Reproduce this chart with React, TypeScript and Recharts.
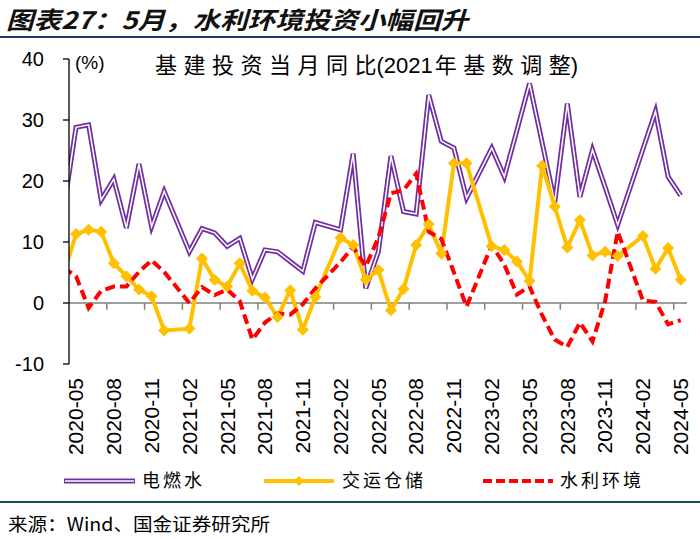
import React from "react";
import { LineChart, Line, XAxis, YAxis, ReferenceLine } from "recharts";

// 2020-04 is only there so the first segment runs in from the left edge
const months = [
  "2020-04", "2020-05", "2020-06", "2020-07", "2020-08", "2020-09", "2020-10", "2020-11", "2020-12",
  "2021-01", "2021-02", "2021-03", "2021-04", "2021-05", "2021-06", "2021-07", "2021-08", "2021-09", "2021-10", "2021-11", "2021-12",
  "2022-01", "2022-02", "2022-03", "2022-04", "2022-05", "2022-06", "2022-07", "2022-08", "2022-09", "2022-10", "2022-11", "2022-12",
  "2023-01", "2023-02", "2023-03", "2023-04", "2023-05", "2023-06", "2023-07", "2023-08", "2023-09", "2023-10", "2023-11", "2023-12",
  "2024-01", "2024-02", "2024-03", "2024-04", "2024-05",
];

const tickLabels = [
  "2020-05", "2020-08", "2020-11", "2021-02", "2021-05", "2021-08", "2021-11", "2022-02", "2022-05",
  "2022-08", "2022-11", "2023-02", "2023-05", "2023-08", "2023-11", "2024-02", "2024-05",
];

// 电燃水
const power = [
  15.0, 28.8, 29.2, 16.9, 20.3, 12.3, 22.8, 12.5, 18.3,
  null, 8.4, 12.2, 11.5, 9.3, 10.6, 3.9, 8.7, 8.4, 6.8, 5.2, 13.2,
  null, 12.0, 24.5, 2.4, 8.4, 24.1, 15.0, 14.6, 34.1, 26.5, 25.4, 17.2,
  null, 25.4, 20.7, 28.3, 36.0, 26.3, 16.5, 32.7, 17.4, 25.1, 19.0, 12.8,
  null, 25.2, 31.4, 20.7, 17.6,
];

// 交运仓储
const transport = [
  4.5, 11.3, 12.0, 11.7, 6.5, 4.4, 2.2, 1.1, -4.5,
  null, -4.2, 7.3, 3.8, 2.7, 6.5, 2.0, 0.9, -2.3, 2.1, -4.4, 1.0,
  null, 10.7, 9.5, 3.8, 5.4, -1.2, 2.3, 9.5, 12.9, 8.1, 22.9, 22.9,
  null, 9.3, 8.7, 6.8, 3.6, 22.5, 15.8, 9.1, 13.6, 7.8, 8.4, 7.7,
  null, 11.0, 5.6, 9.0, 3.8,
];

// 水利环境
const water = [
  5.8, 4.4, -0.8, 2.0, 2.7, 2.7, 5.1, 7.0, 5.1,
  null, 0.0, 2.6, 1.3, 2.2, 0.3, -6.0, -3.2, -1.7, -1.9, -0.2, 2.4,
  null, 6.7, 9.2, 6.0, 10.7, 18.0, 18.5, 21.2, 11.7, 10.5, 5.0, -0.6,
  null, 9.5, 6.3, 1.4, 2.7, -2.0, -6.0, -7.2, -3.2, -6.3, 0.3, 11.7,
  null, 0.4, 0.2, -3.5, -2.8,
];

const yTicks = [-10, 0, 10, 20, 30, 40];

const data = months.map((m, k) => ({
  pos: k - 1,
  month: m,
  power: power[k],
  transport: transport[k],
  water: water[k],
}));

const tickPos = tickLabels.map((t) => months.indexOf(t) - 1);
// excel puts the small tick marks a bit left of each label
const markShift = 0.556;
const zeroMarks = tickPos.filter((p) => p > 0).map((p) => p - markShift);

const PURPLE = "#7030A0";
const GOLD = "#FFC000";
const RED = "#FF0000";
const LATIN = "'Liberation Sans', Arial, sans-serif";
const CJK = "'Noto Sans CJK SC', 'Liberation Sans', sans-serif";
const MIXED = "'Liberation Sans', 'Noto Sans CJK SC', sans-serif";

function MonthTick(props: any) {
  const { x, y, payload } = props;
  const label = months[payload.value + 1];
  return (
    <text
      x={x}
      y={y}
      dy="0.35em"
      transform={`rotate(-90, ${x}, ${y})`}
      textAnchor="end"
      fontSize={21}
      fontFamily={LATIN}
      fill="#000"
    >
      {label}
    </text>
  );
}

function Diamond(props: any) {
  const { cx, cy, index } = props;
  if (cx == null || cy == null || props.value == null) return <g key={`dm-${index}`} />;
  const r = 6;
  return (
    <path
      key={`dm-${index}`}
      d={`M${cx},${cy - r}L${cx + r},${cy}L${cx},${cy + r}L${cx - r},${cy}Z`}
      fill={GOLD}
      stroke="none"
    />
  );
}

export default function App() {
  return (
    <div
      style={{
        position: "absolute",
        left: 0,
        top: 0,
        width: 700,
        height: 539,
        background: "#fff",
        overflow: "hidden",
      }}
    >
      <svg width={700} height={539} style={{ position: "absolute", left: 0, top: 0 }}>
        <text
          x={6}
          y={29}
          fontSize={24}
          fontWeight="bold"
          fontStyle="italic"
          fontFamily={CJK}
          fill="#111"
          textLength={462}
          lengthAdjust="spacingAndGlyphs"
        >
          图表27：5月，水利环境投资小幅回升
        </text>
        <line x1={0} x2={700} y1={37} y2={37} stroke="#1f3864" strokeWidth={2} />

        <text x={75} y={69} fontSize={19} fontFamily={LATIN} fill="#000">
          (%)
        </text>
        <text x={155} y={73} fontSize={22} fill="#000" fontFamily={MIXED}>
          <tspan letterSpacing={6.5}>基建投资当月同</tspan>
          <tspan>比(2021</tspan>
          <tspan dx={2} letterSpacing={6.5}>
            年基数调
          </tspan>
          <tspan>整)</tspan>
        </text>

        {/* legend */}
        <line x1={64} x2={135} y1={481} y2={481} stroke={PURPLE} strokeWidth={5} />
        <line x1={65} x2={134} y1={481} y2={481} stroke="#fff" strokeWidth={1.5} />
        <text x={142} y={487} fontSize={18} fontFamily={CJK} fill="#000" letterSpacing={3}>
          电燃水
        </text>
        <line x1={264} x2={334} y1={481} y2={481} stroke={GOLD} strokeWidth={4} />
        <path d="M299,476L304,481L299,486L294,481Z" fill={GOLD} />
        <text x={342} y={487} fontSize={18} fontFamily={CJK} fill="#000" letterSpacing={3}>
          交运仓储
        </text>
        <line
          x1={483}
          x2={553}
          y1={481}
          y2={481}
          stroke={RED}
          strokeWidth={4}
          strokeDasharray="9 4"
        />
        <text x={560} y={487} fontSize={18} fontFamily={CJK} fill="#000" letterSpacing={3}>
          水利环境
        </text>

        <line x1={0} x2={700} y1={502} y2={502} stroke="#1f4e5a" strokeWidth={2} />
        <text
          x={8}
          y={531}
          fontSize={18}
          fontFamily={CJK}
          fill="#000"
          textLength={262}
          lengthAdjust="spacingAndGlyphs"
        >
          来源：Wind、国金证券研究所
        </text>
      </svg>

      <div style={{ position: "absolute", left: 0, top: 0 }}>
        <LineChart
          width={700}
          height={539}
          data={data}
          margin={{ top: 59, right: 13, bottom: 80, left: 0 }}
        >
          <XAxis
            dataKey="pos"
            type="number"
            domain={[-markShift, 48.5]}
            ticks={tickPos}
            interval={0}
            allowDataOverflow
            axisLine={false}
            tickLine={false}
            tickSize={0}
            tickMargin={14}
            height={95}
            tick={<MonthTick />}
          />
          <YAxis
            type="number"
            domain={[-10, 40]}
            ticks={yTicks}
            allowDataOverflow
            width={69}
            axisLine={{ stroke: "#000", strokeWidth: 1.3 }}
            tickLine={{ stroke: "#000", strokeWidth: 1.3 }}
            tickSize={6}
            tickMargin={19}
            tick={{ fill: "#000", fontSize: 20, fontFamily: LATIN }}
          />
          <ReferenceLine y={0} stroke="#7f7f7f" strokeWidth={1.5} />
          {zeroMarks.map((m) => (
            <ReferenceLine
              key={`zm-${m}`}
              segment={[
                { x: m, y: 0 },
                { x: m, y: -1.1 },
              ]}
              stroke="#7f7f7f"
              strokeWidth={1.5}
            />
          ))}
          <Line
            dataKey="power"
            stroke={PURPLE}
            strokeWidth={5}
            dot={false}
            connectNulls
            isAnimationActive={false}
          />
          <Line
            dataKey="power"
            stroke="#fff"
            strokeWidth={1.5}
            dot={false}
            connectNulls
            isAnimationActive={false}
          />
          <Line
            dataKey="transport"
            stroke={GOLD}
            strokeWidth={4}
            dot={Diamond}
            connectNulls
            isAnimationActive={false}
          />
          <Line
            dataKey="water"
            stroke={RED}
            strokeWidth={4}
            strokeDasharray="10 5"
            dot={false}
            connectNulls
            isAnimationActive={false}
          />
        </LineChart>
      </div>
    </div>
  );
}
